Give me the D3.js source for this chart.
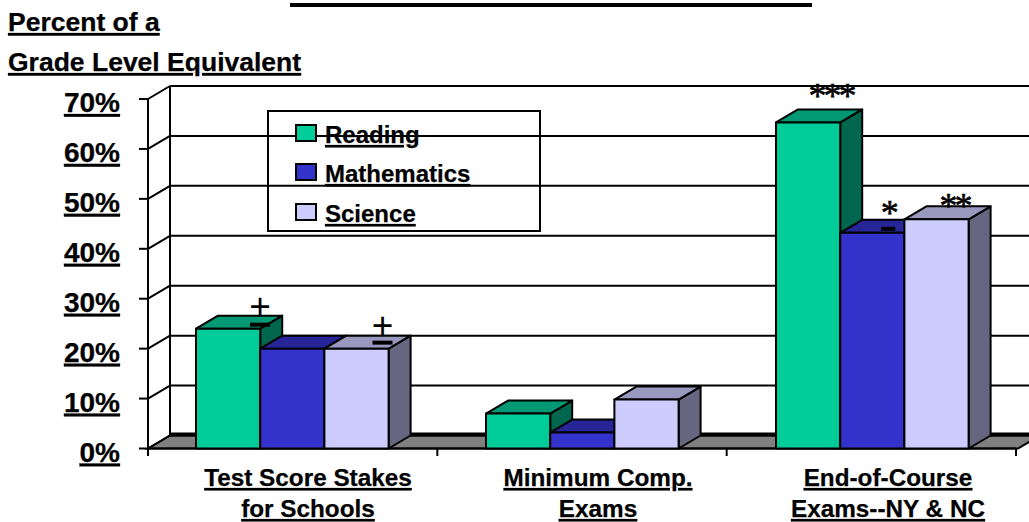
<!DOCTYPE html>
<html><head><meta charset="utf-8">
<script src="https://cdn.jsdelivr.net/npm/d3@7"></script>
<style>
html,body{margin:0;padding:0;background:#fff;overflow:hidden}
svg{display:block}
text{font-family:"Liberation Sans",Arial,sans-serif;font-weight:bold;fill:#000}
.u{text-decoration:underline;stroke:#000;stroke-width:0.25px}
</style></head><body><svg id="c" width="1029" height="522"></svg>
<script>
const categories = [["Test Score Stakes","for Schools"],["Minimum Comp.","Exams"],["End-of-Course","Exams--NY & NC"]];
const seriesNames = ["Reading","Mathematics","Science"];
const reading = [24, 7, 65.3];
const mathematics = [20, 3.2, 43.2];
const science = [20, 9.8, 45.9];
const yTicks = [0,10,20,30,40,50,60,70];
const notes = [
  {cat:0,ser:0,mark:"+",dash:true},
  {cat:0,ser:2,mark:"+",dash:true},
  {cat:2,ser:0,mark:"***",dash:false},
  {cat:2,ser:1,mark:"*",dash:true},
  {cat:2,ser:2,mark:"**",dash:false}
];
const noteDx=[32,26,23,16,18], noteDy=[-22,-23,-29,-23,-16], dashDy=[-4,-6,0,-4,0];
const faces = [
 {front:"#00CC99",top:"#009973",side:"#00664D"},
 {front:"#3333CC",top:"#262699",side:"#1A1A66"},
 {front:"#CCCCFF",top:"#9999BF",side:"#666680"}
];
const values=[reading,mathematics,science];
const svg=d3.select("#c");
const DX=22,DY=-13;
const y=d3.scaleLinear().domain([0,70]).range([448.5,99]);
const x0=d3.scaleBand().domain([0,1,2]).range([148,1018]);
const xTick=d3.scaleLinear().domain([0,3]).range([148,1016]);
const x1=d3.scaleBand().domain([0,1,2]).range([0,192.6]);
const groupX=c=>x0(c)+(x0.bandwidth()-192)/2-1;

// floor
const base=y(0);
svg.append("polygon").attr("points",`148,${base} ${148+DX},${base+DY} 1040,${base+DY} 1018,${base}`).attr("fill","#808080").attr("stroke","#000").attr("stroke-width",2);
svg.append("line").attr("x1",170).attr("x2",1029).attr("y1",base+DY-1).attr("y2",base+DY-1).attr("stroke","#000").attr("stroke-width",4);

// grid
yTicks.forEach(t=>{
  const v=y(t);
  if(t>0) svg.append("line").attr("x1",148+DX).attr("x2",1029).attr("y1",v+DY).attr("y2",v+DY).attr("stroke","#000").attr("stroke-width",2);
  svg.append("line").attr("x1",148).attr("x2",148+DX).attr("y1",v).attr("y2",v+DY).attr("stroke","#000").attr("stroke-width",2);
  svg.append("line").attr("x1",139).attr("x2",148).attr("y1",v).attr("y2",v).attr("stroke","#000").attr("stroke-width",2);
  svg.append("text").attr("class","u").attr("x",120).attr("y",v+13).attr("text-anchor","end").attr("font-size",28).text(t+"%");
});
svg.append("line").attr("x1",170).attr("x2",170).attr("y1",y(70)+DY).attr("y2",base+DY).attr("stroke","#000").attr("stroke-width",2);
svg.append("line").attr("x1",148).attr("x2",148).attr("y1",y(70)).attr("y2",456).attr("stroke","#000").attr("stroke-width",2);
svg.append("line").attr("x1",148).attr("x2",1016).attr("y1",base).attr("y2",base).attr("stroke","#000").attr("stroke-width",2);
[0,1,2,3].forEach(i=>{
  const px=xTick(i);
  svg.append("line").attr("x1",px).attr("x2",px).attr("y1",base).attr("y2",456).attr("stroke","#000").attr("stroke-width",2);
});

// legend
svg.append("rect").attr("x",268).attr("y",111).attr("width",272).attr("height",120).attr("fill","none").attr("stroke","#000").attr("stroke-width",2);
const legY=[134,173,213];
seriesNames.forEach((s,i)=>{
  svg.append("rect").attr("x",296).attr("y",legY[i]-9).attr("width",20).attr("height",16).attr("fill",faces[i].front).attr("stroke","#000").attr("stroke-width",2);
  svg.append("text").attr("class","u").attr("x",325).attr("y",legY[i]+9).attr("font-size",24).text(s);
});

// bars
categories.forEach((c,ci)=>{
  seriesNames.forEach((s,si)=>{
    const l=groupX(ci)+x1(si), r=l+x1.bandwidth(), t=y(values[si][ci]);
    const g=svg.append("g").attr("stroke","#000").attr("stroke-width",2).attr("stroke-linejoin","round");
    g.append("polygon").attr("points",`${r},${t} ${r+DX},${t+DY} ${r+DX},${base+DY} ${r},${base}`).attr("fill",faces[si].side);
    g.append("polygon").attr("points",`${l},${t} ${l+DX},${t+DY} ${r+DX},${t+DY} ${r},${t}`).attr("fill",faces[si].top);
    g.append("rect").attr("x",l).attr("y",t).attr("width",r-l).attr("height",base-t).attr("fill",faces[si].front);
  });
});

// annotations
notes.forEach((n,i)=>{
  const l=groupX(n.cat)+x1(n.ser), t=y(values[n.ser][n.cat]);
  const cx=l+x1.bandwidth()/2+noteDx[i], cy=t+noteDy[i];
  if(n.mark=="+"){
    svg.append("text").attr("x",cx).attr("y",cy+12).attr("text-anchor","middle").attr("font-size",37).style("font-weight","normal").text("+");
  } else {
    svg.append("text").attr("x",cx).attr("y",cy+15).attr("text-anchor","middle").attr("font-size",36).attr("letter-spacing",-3).attr("stroke","#000").attr("stroke-width",0.6).style("font-weight","normal").style("font-family","Liberation Serif").text(n.mark);
  }
  if(n.dash){
    const w=n.mark=="*"?14:20;
    svg.append("rect").attr("x",cx-w/2).attr("y",t+dashDy[i]-2).attr("width",w).attr("height",4).attr("fill","#000");
  }
});

// category labels
categories.forEach((c,ci)=>{
  const cx=x0(ci)+x0.bandwidth()/2+15;
  c.forEach((ln,k)=>{
    svg.append("text").attr("class","u").attr("x",cx).attr("y",486+k*31).attr("text-anchor","middle").attr("font-size",24.3).text(ln);
  });
});

// header
svg.append("rect").attr("x",290).attr("y",3).attr("width",522).attr("height",4).attr("fill","#000");
svg.append("text").attr("class","u").attr("x",8).attr("y",31).attr("font-size",26.5).text("Percent of a");
svg.append("text").attr("class","u").attr("x",8).attr("y",71).attr("font-size",26.5).text("Grade Level Equivalent");
</script></body></html>
